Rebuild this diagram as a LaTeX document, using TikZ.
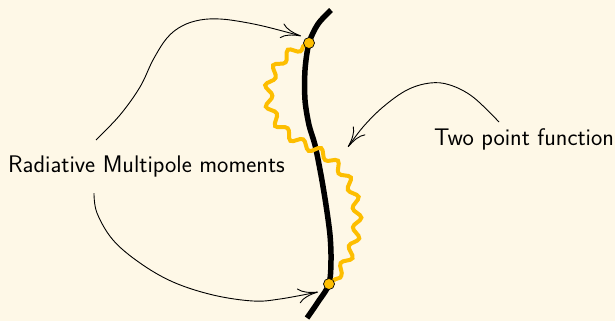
\documentclass[tikz,border=0pt]{standalone}
\usetikzlibrary{arrows.meta,decorations.pathmorphing}
\definecolor{bgcream}{RGB}{254,248,231}
\definecolor{amber}{RGB}{253,190,0}
\begin{document}
\begin{tikzpicture}[x=1pt,y=-1pt,
  lbl/.style={font=\sffamily\fontsize{24}{28}\selectfont, inner sep=0pt},
  thinarrow/.style={line width=0.9pt, -{To[length=20pt,width=15pt]}},
  worldline/.style={line width=5.5pt},
  wavy/.style={amber, line width=4pt, decorate,
    decoration={snake, amplitude=4pt, segment length=20pt, pre length=5pt, post length=5pt}},
  vertexdot/.style={circle, fill=amber, draw=black, line width=0.7pt, minimum size=11pt, inner sep=0pt}]
\fill[bgcream] (0,0) rectangle (615,321);
\useasboundingbox (0,0) rectangle (615,321);

\coordinate (v1) at (309,43);
\coordinate (cross) at (315,145);
\coordinate (v2) at (329,284);

\node[lbl, anchor=base west] (rmm) at (8,172) {Radiative Multipole moments};
\node[lbl, anchor=base west] (tpf) at (434,145) {Two point function};

% world line
\draw[worldline] plot[smooth, tension=0.5] coordinates
  {(331,10) (318,24) (309,43) (305,70) (305,100) (309,125) (315,145) (321,175) (326,205) (330,235) (331,260) (329,284) (318,302) (307,318)};

% wavy propagator
\draw[wavy] (v1) .. controls (265,60) and (255,120) .. (cross)
  .. controls (375,170) and (375,250) .. (v2);

% arrows
\draw[thinarrow] plot[smooth, tension=0.6] coordinates
  {(96,140) (120,115) (140,87) (153,60) (167,38) (182,26) (200,20) (220,19) (243,22) (267,27) (301,36)};
\draw[thinarrow] plot[smooth, tension=0.6] coordinates
  {(94,193) (97,213) (113,240) (140,263) (173,282) (213,295) (253,301) (280,299) (318,292)};
\draw[thinarrow] plot[smooth, tension=0.6] coordinates
  {(499,122) (473,97) (450,85) (430,83) (407,90) (383,107) (363,127) (348,147)};

\node[vertexdot] (d1) at (v1) {};
\node[vertexdot] (d2) at (v2) {};
\end{tikzpicture}
\end{document}
